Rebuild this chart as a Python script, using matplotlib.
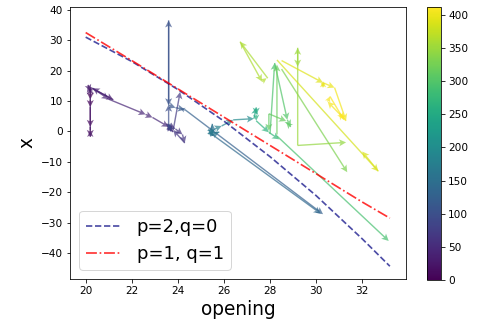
import numpy as np
import matplotlib
matplotlib.use("Agg")
import matplotlib.pyplot as plt
from matplotlib.cm import ScalarMappable
from matplotlib.colors import Normalize

# arrows: start point, end point, time step (colour)
x_start = [20.2, 20.2, 20.2, 20.2, 20.2, 20.2, 20.2, 20.1, 20.2, 21.2, 20.3, 21.0,
           22.6, 22.9, 23.6, 23.8, 23.5, 23.9, 24.2, 24.3, 23.8,
           23.6, 23.7, 23.6, 23.6, 23.6, 23.6, 23.6, 23.9, 24.3, 24.3, 25.4,
           25.5, 25.5, 25.4, 25.8, 25.3, 25.6, 25.9, 26.4,
           27.3, 27.4, 27.4, 27.4, 27.95, 28.3,
           28.0, 28.2, 28.75, 28.9, 27.95, 27.95, 28.3, 28.5,
           29.2, 29.2, 29.2, 27.9, 26.7, 27.65, 28.3, 32.7,
           28.5, 30.3, 30.3, 30.3, 30.8, 31.3, 30.5, 30.6, 31.2]
y_start = [14.0, 10.5, 8.0, 1.5, -1.8, 0.3, 13.0, 15.3, 14.5, 10.4, 14.2, 10.6,
           5.6, 4.6, 1.5, -0.2, 2.5, 0.8, -1.0, -3.8, 0.5,
           1.5, 0.0, 2.5, 1.0, 8.8, 36.5, 8.6, 7.8, 7.0, 7.2, -0.5,
           -1.5, 2.5, -1.5, -0.2, -0.8, 0.8, 1.8, 3.8,
           4.2, 7.9, 5.5, 3.5, -0.3, -1.5,
           -0.8, 22.5, 3.8, 1.5, 5.8, 5.8, -1.0, 20.5,
           -4.6, -4.6, 27.5, 17.5, 29.5, 16.4, 23.5, -13.1,
           23.3, 16.0, 14.5, 16.0, 14.4, 3.5, 9.8, 11.5, 3.9]
x_end = [20.2, 20.2, 20.2, 20.2, 20.2, 20.2, 20.1, 20.2, 21.2, 20.3, 21.0, 22.6,
         22.9, 23.6, 23.8, 23.5, 23.9, 24.2, 24.3, 23.8, 24.1,
         23.7, 23.6, 23.7, 23.6, 23.6, 23.6, 23.9, 24.3, 24.1, 30.3, 30.2,
         25.5, 25.4, 25.8, 25.3, 25.6, 25.9, 26.4, 27.3,
         27.4, 27.4, 27.4, 27.95, 28.4, 33.15,
         28.2, 28.75, 28.9, 28.7, 27.95, 28.7, 28.3, 31.35,
         31.3, 29.2, 29.2, 26.7, 27.65, 27.85, 32.7, 32.0,
         30.3, 30.3, 30.3, 30.8, 31.3, 30.5, 30.6, 31.2, 31.0]
y_end = [10.5, 8.0, 1.5, -1.8, 0.3, 14.5, 15.3, 13.2, 10.4, 14.2, 10.6, 5.6,
         4.6, 1.5, -0.2, 2.5, 0.8, -1.0, -3.8, 0.5, 13.0,
         0.0, 2.5, 0.8, 8.8, 36.5, 8.6, 7.8, 7.2, 7.6, -27.2, -27.0,
         2.5, -1.5, -0.2, -0.8, 0.8, 1.8, 3.8, 4.2,
         7.9, 5.5, 3.5, -0.3, -2.6, -36.0,
         22.5, 3.8, 1.5, 3.0, 0.2, 3.4, 22.0, -13.4,
         -3.6, 27.5, 21.3, 29.5, 16.4, 17.5, -13.1, -6.6,
         16.0, 14.5, 16.5, 14.4, 3.5, 9.8, 11.5, 3.9, 6.2]
t_step = [0, 5, 10, 15, 20, 25, 28, 30, 33, 36, 39, 42,
          45, 48, 52, 55, 58, 61, 64, 67, 72,
          80, 85, 90, 98, 102, 106, 110, 114, 118, 125, 140,
          150, 155, 160, 165, 170, 178, 185, 195,
          240, 250, 258, 265, 272, 290,
          295, 300, 305, 308, 312, 315, 318, 330,
          345, 350, 352, 360, 362, 365, 385, 388,
          392, 396, 398, 400, 404, 406, 408, 410, 412]

# fitted curves
fit_x = [20, 22, 24, 26, 28, 30, 32, 33.2]
fit_p2q0 = [31.0, 23.0, 13.8, 3.4, -8.3, -21.1, -35.3, -44.3]
fit_p1q1 = [32.5, 23.3, 14.0, 4.7, -4.6, -13.9, -23.2, -28.5]

xs = np.array(x_start)
ys = np.array(y_start)
u = np.array(x_end) - xs
v = np.array(y_end) - ys
t = np.array(t_step)

fig = plt.figure(figsize=(477/72, 327/72), dpi=72)
ax = fig.add_axes([70/477, 48/327, 336/477, 272/327])
cax = fig.add_axes([427/477, 47/327, 14/477, 273/327])

norm = Normalize(0, 412)
ax.quiver(xs, ys, u, v, t, cmap='viridis', norm=norm, angles='xy',
          scale_units='xy', scale=1, width=0.0042, headwidth=5,
          headlength=5, headaxislength=4, alpha=0.7)

ax.plot(fit_x, fit_p2q0, '--', color='navy', alpha=0.7, lw=1.7, label='p=2,q=0')
ax.plot(fit_x, fit_p1q1, '-.', color='red', alpha=0.8, lw=1.7, label='p=1, q=1')

ax.set_xlim(19.32, 33.9)
ax.set_ylim(-48.5, 40.9)
ax.set_xticks([20, 22, 24, 26, 28, 30, 32])
ax.set_yticks([-40, -30, -20, -10, 0, 10, 20, 30, 40])
ax.tick_params(labelsize=10.5)
ax.set_xlabel('opening', fontsize=18.5)
ax.set_ylabel('x', fontsize=18.5)
ax.legend(loc='lower left', fontsize=18, handlelength=2.0)

cb = fig.colorbar(ScalarMappable(norm=norm, cmap='viridis'), cax=cax)
cb.set_ticks([0, 50, 100, 150, 200, 250, 300, 350, 400])
cb.ax.tick_params(labelsize=10.5)

fig.savefig('out.png', dpi=72)
